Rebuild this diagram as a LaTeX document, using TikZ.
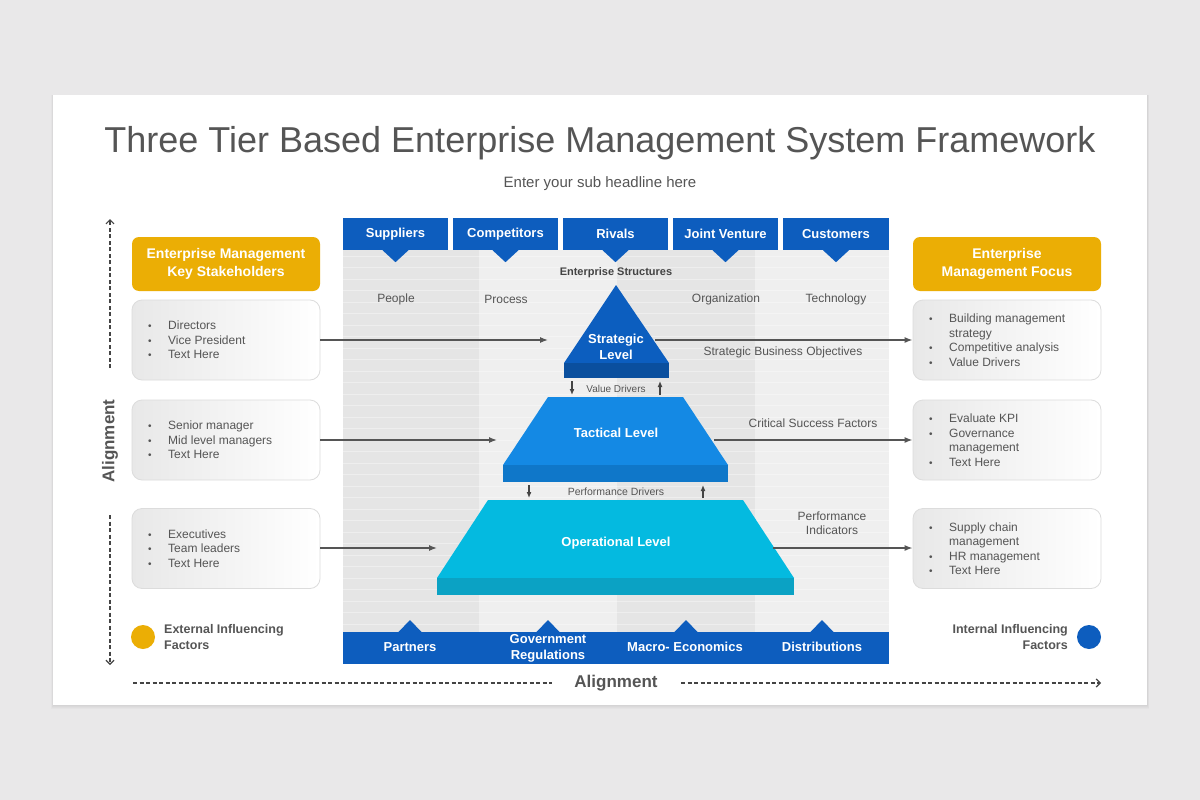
\documentclass[tikz,border=0pt]{standalone}
\usepackage{fontspec}
\setmainfont{Liberation Sans}
\usetikzlibrary{arrows.meta,calc}
\newcommand\fsz[2]{\fontsize{#1}{#2}\selectfont}
\newcommand\bl{\makebox[20pt][l]{\fsz{10}{10}\textbullet}}
\newcommand\nb{\makebox[20pt][l]{}}
\definecolor{pagebg}{HTML}{E9E8E9}
\definecolor{txt}{HTML}{555555}
\definecolor{dtxt}{HTML}{444444}
\definecolor{bar}{HTML}{0D5DBE}
\definecolor{gold}{HTML}{EBAE05}
\definecolor{colA}{HTML}{E5E5E5}
\definecolor{colB}{HTML}{EFEFEF}
\definecolor{strat}{HTML}{0C5EBF}
\definecolor{stratb}{HTML}{0A4F9E}
\definecolor{tact}{HTML}{1489E4}
\definecolor{tactb}{HTML}{0F77C9}
\definecolor{oper}{HTML}{04BAE0}
\definecolor{operb}{HTML}{0BA2C4}
\definecolor{boxline}{HTML}{DCDCDC}
\begin{document}
\begin{tikzpicture}[x=1pt,y=-1pt,
  bartile/.style={fill=bar, minimum width=105, minimum height=32, inner sep=0, text=white, font=\bfseries\fsz{13}{14}},
  hdr/.style={fill=gold, rounded corners=7, minimum width=188, minimum height=54, inner sep=0, text=white, font=\bfseries\fsz{14}{18}, align=center},
  listbox/.style={draw=boxline, line width=0.8, rounded corners=10, left color=black!9, right color=white, minimum width=188, minimum height=80, inner sep=0},
  listtxt/.style={text=txt, font=\fsz{12}{14.5}, anchor=west, inner sep=0, align=left},
  lbl/.style={text=txt, font=\fsz{12}{14.5}, inner sep=0, align=center},
  botlbl/.style={text=white, font=\bfseries\fsz{13}{16}, inner sep=0, align=center},
  lvl/.style={text=white, font=\bfseries\fsz{13}{16}, align=center, inner sep=0},
  conn/.style={draw=txt, line width=1.3, -{Latex[length=8pt,width=6pt]}},
  smallarr/.style={draw=dtxt, line width=1.2, -{Latex[length=6pt,width=5pt]}},
  algn/.style={draw=dtxt, line width=1.2, dash pattern=on 4pt off 2.5pt},
  algnarr/.style={algn, -{Straight Barb[length=4pt,width=8pt]}},
  dot/.style={circle, minimum size=24, inner sep=0},
  infl/.style={text=txt, font=\bfseries\fsz{12.5}{16}, inner sep=0},
]
\useasboundingbox (0,0) rectangle (1200,800);
\fill[pagebg] (0,0) rectangle (1200,800);
% panel with soft shadow
\foreach \d in {4,3,2,1}
  \fill[black,opacity=0.018] (53-\d/2,95) rectangle (1147+\d/2,705+\d);
\fill[white] (53,95) rectangle (1147,705);

% title
\node[text=txt, font=\fsz{36}{40}, inner sep=0] (title) at (600,143) {Three Tier Based Enterprise Management System Framework};
\node[text=txt, font=\fsz{15}{18}, inner sep=0] (sub) at (600,184) {Enter your sub headline here};

% gray columns
\fill[colA] (343,250) rectangle (479,632);
\fill[colB] (479,250) rectangle (617,632);
\fill[colA] (617,250) rectangle (755,632);
\fill[colB] (755,250) rectangle (889,632);
\foreach \y in {256,267.5,...,628}
  \draw[white, opacity=.35, line width=.8] (343,\y) -- (889,\y);

% top bar
\node[bartile] (t1) at (395.5,234) {Suppliers};
\node[bartile] (t2) at (505.5,234) {Competitors};
\node[bartile] (t3) at (615.5,234) {Rivals};
\node[bartile] (t4) at (725.5,234) {Joint Venture};
\node[bartile, minimum width=106] (t5) at (836,234) {Customers};
\foreach \n in {t1,t2,t3,t4,t5}
  \fill[bar] ($(\n.south)+(-13,0)$) -- ($(\n.south)+(0,12)$) -- ($(\n.south)+(13,0)$) -- cycle;

\node[text=dtxt, font=\bfseries\fsz{11}{13}, inner sep=0] (es) at (616,273) {Enterprise Structures};
\node[lbl] (pe) at (396,299) {People};
\node[lbl] (pr) at (506,299) {Process};
\node[lbl] (or) at (726,299) {Organization};
\node[lbl] (te) at (836,299) {Technology};

% bottom bar
\fill[bar] (343,632) rectangle (889,664);
\foreach \x in {410,548,686,822}
  \fill[bar] (\x-12,632.5) -- (\x,620) -- (\x+12,632.5) -- cycle;
\node[botlbl] (b1) at (410,647) {Partners};
\node[botlbl] (b2) at (548,648) {Government\\Regulations};
\node[botlbl] (b3) at (685,647) {Macro- Economics};
\node[botlbl] (b4) at (822,647) {Distributions};

% pyramid
\fill[strat] (616,285) -- (669,363) -- (564,363) -- cycle;
\fill[stratb] (564,363) rectangle (669,378);
\node[lvl] (sl) at (616,347) {Strategic\\Level};
\fill[tact] (548,397) -- (683,397) -- (728,465) -- (503,465) -- cycle;
\fill[tactb] (503,465) rectangle (728,482);
\node[lvl] (tl) at (616,433) {Tactical Level};
\fill[oper] (488,500) -- (743,500) -- (794,578) -- (437,578) -- cycle;
\fill[operb] (437,578) rectangle (794,595);
\node[lvl] (ol) at (616,543) {Operational Level};

% drivers
\node[text=txt, font=\fsz{10}{12}, inner sep=0] (vd) at (616,388.5) {Value Drivers};
\coordinate (vd1a) at (572,381); \coordinate (vd1b) at (572,395);
\coordinate (vd2a) at (660,395); \coordinate (vd2b) at (660,381);
\draw[smallarr] (vd1a) -- (vd1b);
\draw[smallarr] (vd2a) -- (vd2b);
\node[text=txt, font=\fsz{10.5}{12}, inner sep=0] (pd) at (616,491.5) {Performance Drivers};
\coordinate (pd1a) at (529,485); \coordinate (pd1b) at (529,498);
\coordinate (pd2a) at (703,498); \coordinate (pd2b) at (703,485);
\draw[smallarr] (pd1a) -- (pd1b);
\draw[smallarr] (pd2a) -- (pd2b);

% right labels
\node[lbl] (sbo) at (783,352) {Strategic Business Objectives};
\node[lbl] (csf) at (813,423) {Critical Success Factors};
\node[lbl] (pi) at (832,523) {Performance\\Indicators};

% left column
\node[hdr] (lh) at (226,264) {Enterprise Management\\Key Stakeholders};
\node[listbox] (lb1) at (226,340) {};
\node[listbox] (lb2) at (226,440) {};
\node[listbox] (lb3) at (226,548.5) {};
\node[listtxt] at (148,340) {\bl Directors\\\bl Vice President\\\bl Text Here};
\node[listtxt] at (148,440) {\bl Senior manager\\\bl Mid level managers\\\bl Text Here};
\node[listtxt] at (148,548.5) {\bl Executives\\\bl Team leaders\\\bl Text Here};

% right column
\node[hdr] (rh) at (1007,264) {Enterprise\\Management Focus};
\node[listbox] (rb1) at (1007,340) {};
\node[listbox] (rb2) at (1007,440) {};
\node[listbox] (rb3) at (1007,548.5) {};
\node[listtxt] at (929,340) {\bl Building management\\\nb strategy\\\bl Competitive analysis\\\bl Value Drivers};
\node[listtxt] at (929,440) {\bl Evaluate KPI\\\bl Governance\\\nb management\\\bl Text Here};
\node[listtxt] at (929,548.5) {\bl Supply chain\\\nb management\\\bl HR management\\\bl Text Here};

% connectors
\coordinate (ls) at (548,340); \coordinate (lt) at (497,440); \coordinate (lo) at (437,548);
\coordinate (rs) at (655,340); \coordinate (rt) at (714,440); \coordinate (ro) at (773,548);
\draw[conn] (lb1.east) -- (ls);
\draw[conn] (lb2.east) -- (lt);
\draw[conn] (lb3.east |- lo) -- (lo);
\draw[conn] (rs) -- (rb1.west);
\draw[conn] (rt) -- (rb2.west);
\draw[conn] (ro) -- (rb3.west |- ro);

% influencing factors
\node[dot, fill=gold] (ed) at (143,637) {};
\node[infl, anchor=west, align=left] (ef) at (164,637) {External Influencing\\Factors};
\node[dot, fill=bar] (id) at (1089,637) {};
\node[infl, anchor=east, align=right] (if) at (1068,637) {Internal Influencing\\Factors};

% alignment arrows
\node[text=txt, font=\bfseries\fsz{17}{20}, inner sep=0, rotate=90] (va) at (110,441) {Alignment};
\coordinate (va1) at (110,368); \coordinate (va2) at (110,219);
\coordinate (va3) at (110,515); \coordinate (va4) at (110,665);
\draw[algnarr] (va1) -- (va2);
\draw[algnarr] (va3) -- (va4);
\node[text=txt, font=\bfseries\fsz{17}{20}, inner sep=0] (ha) at (616,683) {Alignment};
\coordinate (ha1) at (133,683); \coordinate (ha2) at (552,683);
\coordinate (ha3) at (681,683); \coordinate (ha4) at (1101,683);
\draw[algn] (ha1) -- (ha2);
\draw[algnarr] (ha3) -- (ha4);
\end{tikzpicture}
\end{document}
